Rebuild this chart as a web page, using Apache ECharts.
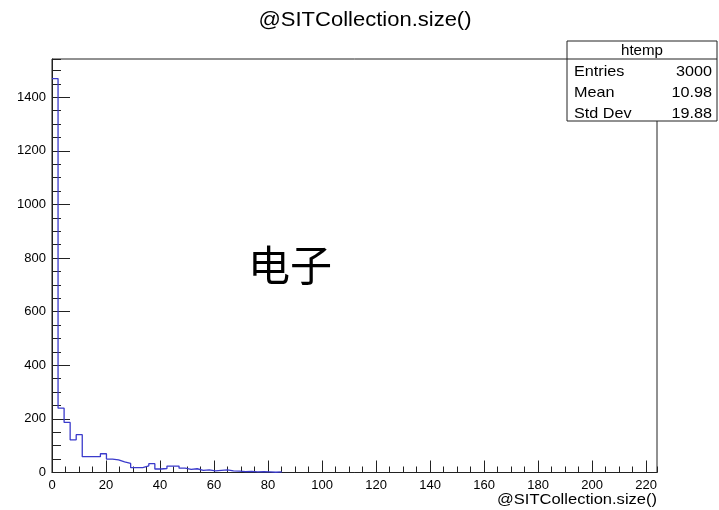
<!DOCTYPE html>
<html>
<head>
<meta charset="utf-8">
<script src="https://cdn.jsdelivr.net/npm/echarts@6/dist/echarts.min.js"></script>
<style>
  html, body { margin: 0; padding: 0; background: #ffffff; }
  #chart { width: 719px; height: 510px; }
</style>
</head>
<body>
<div id="chart"></div>
<script>
// Histogram of @SITCollection.size(), 100 bins over [0, 224]
const histName = 'htemp';
const varName = '@SITCollection.size()';
const annotation = '电子';
const xMin = 0;
const xMax = 224;
const binWidth = 2.24;
const yMax = 1543;

// counts per bin, starting at xMin (bins beyond the list are empty)
const binCounts = [
  1470, 240, 187, 122, 141, 59, 59, 59, 70, 50,
  47, 40, 34, 18, 18, 25, 33, 13, 15, 24,
  24, 16, 12, 14, 8, 10, 6, 8, 10, 6,
  5, 3, 4, 2, 3, 2, 1, 2
];

const xTickLabels = [0, 20, 40, 60, 80, 100, 120, 140, 160, 180, 200, 220];
const yTickLabels = [0, 200, 400, 600, 800, 1000, 1200, 1400];

const statsLabels = ['Entries', 'Mean', 'Std Dev'];
const statsValues = ['3000', '10.98', '19.88'];

// step outline: each point opens a bin; the last point closes the final bin at zero
const stepPoints = binCounts.map((c, i) => [xMin + i * binWidth, c]);
stepPoints.push([xMin + binCounts.length * binWidth, 0]);

const FONT = '"Liberation Sans", Arial, Helvetica, sans-serif';
const AXIS_COLOR = '#222';

const majorX = xTickLabels[1] - xTickLabels[0];
const majorY = yTickLabels[1] - yTickLabels[0];

const chart = echarts.init(document.getElementById('chart'), null, { renderer: 'canvas' });

const boxL = 567, boxR = 717, boxT = 41, boxB = 121, boxHead = 59;
const rowY = [72, 93, 114];

const statsGraphics = [
  { type: 'rect', shape: { x: boxL, y: boxT, width: boxR - boxL, height: boxB - boxT },
    style: { fill: '#fff', stroke: AXIS_COLOR, lineWidth: 1 }, z: 100 },
  { type: 'line', shape: { x1: boxL, y1: boxHead, x2: boxR, y2: boxHead },
    style: { stroke: AXIS_COLOR, lineWidth: 1 }, z: 101 },
  { type: 'text', x: (boxL + boxR) / 2, y: (boxT + boxHead) / 2 + 1, z: 101, scaleX: 1.08,
    style: { text: histName, font: '14px ' + FONT, fill: '#000', align: 'center', verticalAlign: 'middle' } }
];
statsLabels.forEach((lab, i) => {
  statsGraphics.push({ type: 'text', x: boxL + 7, y: rowY[i], z: 101, scaleX: 1.08,
    style: { text: lab, font: '15px ' + FONT, fill: '#000', align: 'left', verticalAlign: 'middle' } });
  statsGraphics.push({ type: 'text', x: boxR - 5, y: rowY[i], z: 101, scaleX: 1.08,
    style: { text: statsValues[i], font: '15px ' + FONT, fill: '#000', align: 'right', verticalAlign: 'middle' } });
});

const option = {
  animation: false,
  backgroundColor: '#ffffff',
  grid: {
    left: 52, right: 62, top: 59, bottom: 37.5,
    show: true, borderColor: AXIS_COLOR, borderWidth: 1, backgroundColor: 'transparent'
  },
  xAxis: [
    {
      type: 'value', min: xMin, max: xMax, interval: majorX, position: 'bottom',
      axisLine: { show: true, onZero: false, lineStyle: { color: AXIS_COLOR, width: 1 } },
      axisTick: { show: true, inside: true, length: 12, lineStyle: { color: AXIS_COLOR } },
      axisLabel: { show: true, margin: 6, color: '#000', fontSize: 13, fontFamily: FONT,
        showMaxLabel: false, formatter: v => (xTickLabels.includes(v) ? String(v) : '') },
      splitLine: { show: false }
    },
    {
      type: 'value', min: xMin, max: xMax, interval: majorX / 4, position: 'bottom',
      axisLine: { show: false, onZero: false },
      axisTick: { show: true, inside: true, length: 6, lineStyle: { color: AXIS_COLOR } },
      axisLabel: { show: false },
      splitLine: { show: false }
    }
  ],
  yAxis: [
    {
      type: 'value', min: 0, max: yMax, interval: majorY, position: 'left',
      axisLine: { show: true, onZero: false, lineStyle: { color: AXIS_COLOR, width: 1 } },
      axisTick: { show: true, inside: true, length: 18, lineStyle: { color: AXIS_COLOR } },
      axisLabel: { show: true, margin: 6, color: '#000', fontSize: 13, fontFamily: FONT,
        showMaxLabel: false, formatter: v => (yTickLabels.includes(v) ? String(v) : '') },
      splitLine: { show: false }
    },
    {
      type: 'value', min: 0, max: yMax, interval: majorY / 4, position: 'left',
      axisLine: { show: false, onZero: false },
      axisTick: { show: true, inside: true, length: 9, lineStyle: { color: AXIS_COLOR } },
      axisLabel: { show: false },
      splitLine: { show: false }
    }
  ],
  series: [{
    type: 'line',
    name: histName,
    xAxisIndex: 0,
    yAxisIndex: 0,
    data: stepPoints,
    step: 'end',
    showSymbol: false,
    symbol: 'none',
    lineStyle: { color: '#3a3acb', width: 1.3 },
    z: 5
  }],
  graphic: [
    { type: 'text', x: 365, y: 20, z: 100, scaleX: 1.1,
      style: { text: varName, font: '20px ' + FONT, fill: '#000', align: 'center', verticalAlign: 'middle' } },
    { type: 'text', x: 657, y: 500, z: 100, scaleX: 1.18,
      style: { text: varName, font: '14px ' + FONT, fill: '#000', align: 'right', verticalAlign: 'middle' } },
    { type: 'text', x: 290, y: 265, z: 100,
      style: { text: annotation, font: '42px "Noto Sans CJK SC", sans-serif', fill: '#000', align: 'center', verticalAlign: 'middle' } }
  ].concat(statsGraphics)
};

chart.setOption(option);
</script>
</body>
</html>
